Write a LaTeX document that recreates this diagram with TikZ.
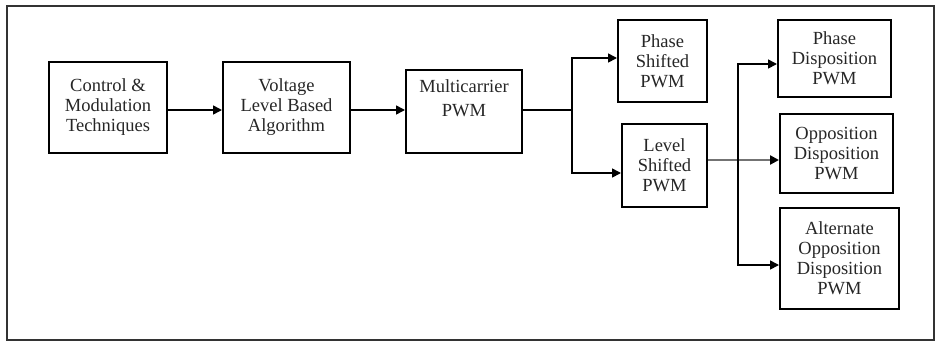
\documentclass[tikz,border=0pt]{standalone}
\usepackage{fontspec}
\setmainfont{Liberation Serif}
\usetikzlibrary{arrows.meta}
\begin{document}
\begin{tikzpicture}[x=1pt,y=-1pt,
  blk/.style={draw=black,line width=2pt,rectangle,inner sep=0pt,align=center,
    font=\fontsize{18.5}{20}\selectfont,text=black!85},
  arr/.style={line width=1.6pt,-{Triangle[length=9pt,width=9pt,color=black]}},
  ln/.style={line width=1.6pt}]
\useasboundingbox (0,0) rectangle (936,341);
\node[draw=black!80,line width=1.8pt,minimum width=927pt,minimum height=334pt,inner sep=0pt] (frame) at (470.5,173) {};
\node[blk,minimum width=118pt,minimum height=91pt] (b1) at (108,107.5) {Control \&\\Modulation\\Techniques};
\node[blk,minimum width=127pt,minimum height=91pt] (b2) at (286.5,107.5) {Voltage\\Level Based\\Algorithm};
\node[blk,minimum width=116pt,minimum height=83pt] (b3) at (464,111.5) {Multicarrier\\[4pt]PWM\\\strut};
\node[blk,minimum width=89pt,minimum height=82pt] (b4) at (662.5,61) {Phase\\Shifted\\PWM};
\node[blk,minimum width=85pt,minimum height=83pt] (b5) at (664.5,165.5) {Level\\Shifted\\PWM};
\node[blk,minimum width=113pt,minimum height=77pt] (b6) at (834.5,58.5) {Phase\\Disposition\\PWM};
\node[blk,minimum width=113pt,minimum height=79pt] (b7) at (836.5,153.5) {Opposition\\Disposition\\PWM};
\node[blk,minimum width=119pt,minimum height=101pt] (b8) at (839.5,258.5) {Alternate\\Opposition\\Disposition\\PWM};
\draw[arr] ([yshift=-2.5pt]b1.east) -- ([yshift=-2.5pt]b2.west);
\draw[arr] ([yshift=-2.5pt]b2.east) -- ([yshift=1.5pt]b3.west);
\coordinate (s1) at ([xshift=49pt,yshift=1.5pt]b3.east);
\draw[ln] ([yshift=1.5pt]b3.east) -- (s1);
\draw[arr] (s1) |- ([yshift=3pt]b4.west);
\draw[arr] (s1) |- ([yshift=-7.5pt]b5.west);
\draw[arr,draw=black!55,line width=2.8pt] ([yshift=5.5pt]b5.east) -- ([yshift=-6.5pt]b7.west);
\coordinate (s2) at ([xshift=30pt,yshift=5.5pt]b5.east);
\draw[arr] (s2) |- ([yshift=-5.5pt]b6.west);
\draw[arr] (s2) |- ([yshift=-6.5pt]b8.west);
\end{tikzpicture}
\end{document}
